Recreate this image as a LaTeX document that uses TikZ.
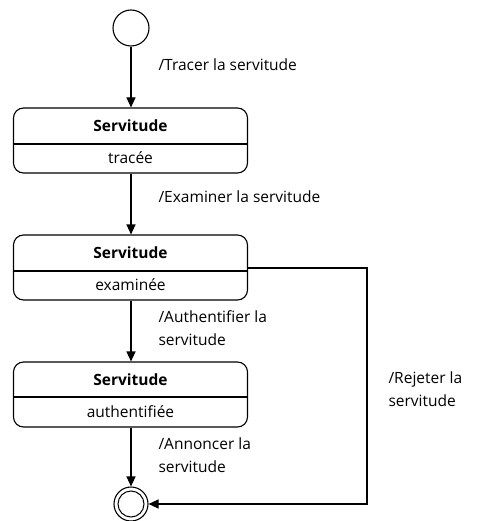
\documentclass[tikz,border=0pt]{standalone}
\usepackage{fontspec}
\setmainfont{Open Sans}
\usetikzlibrary{arrows.meta}
\begin{document}
\begin{tikzpicture}[x=1pt,y=-1pt,
  line width=1.1pt,
  statebox/.style={draw, rounded corners=10pt, minimum width=234pt, minimum height=65pt, inner sep=0pt},
  title/.style={font=\fontsize{15.5}{18}\selectfont\bfseries, inner sep=0pt},
  sub/.style={font=\fontsize{15.5}{18}\selectfont, inner sep=0pt},
  lbl/.style={font=\fontsize{15.5}{23}\selectfont, inner sep=0pt, anchor=west, align=left},
  arr/.style={-{Triangle[length=10pt,width=9pt]}}]
\useasboundingbox (0,0) rectangle (476,521);
% initial state
\node[draw, circle, minimum size=36pt, inner sep=0pt] (init) at (131,28) {};
% boxes
\node[statebox] (b1) at (130.5,140.5) {};
\node[title] (t1) at (130.5,126) {Servitude};
\node[sub] (s1) at (130.5,158) {tracée};
\draw (b1.west |- 0,144) -- (b1.east |- 0,144);
\node[statebox] (b2) at (130.5,267.5) {};
\node[title] (t2) at (130.5,253) {Servitude};
\node[sub] (s2) at (130.5,285) {examinée};
\draw (b2.west |- 0,271) -- (b2.east |- 0,271);
\node[statebox] (b3) at (130.5,394.5) {};
\node[title] (t3) at (130.5,380) {Servitude};
\node[sub] (s3) at (130.5,412) {authentifiée};
\draw (b3.west |- 0,397) -- (b3.east |- 0,397);
% final state
\node[draw, circle, minimum size=34pt, inner sep=0pt] (fin) at (131,504) {};
\node[draw, circle, minimum size=26pt, inner sep=0pt, line width=1pt] (fininner) at (131,504) {};
% connectors
\draw[arr] (init) -- (b1.north -| init);
\draw[arr] (b1.south -| init) -- (b2.north -| init);
\draw[arr] (b2.south -| init) -- (b3.north -| init);
\draw[arr] (b3.south -| init) -- (fin.north);
\coordinate (r1) at (b2.east |- 0,268);
\coordinate (r2) at (367,268);
\coordinate (r3) at (367,504);
\draw[arr] (r1) -- (r2) -- (r3) -- (fin.east);
% labels
\node[lbl] (l1) at (158,65) {/Tracer la servitude};
\node[lbl] (l2) at (158,197) {/Examiner la servitude};
\node[lbl] (l3) at (158,328) {/Authentifier la\\servitude};
\node[lbl] (l4) at (388,389) {/Rejeter la\\servitude};
\node[lbl] (l5) at (158,455) {/Annoncer la\\servitude};
\end{tikzpicture}
\end{document}
